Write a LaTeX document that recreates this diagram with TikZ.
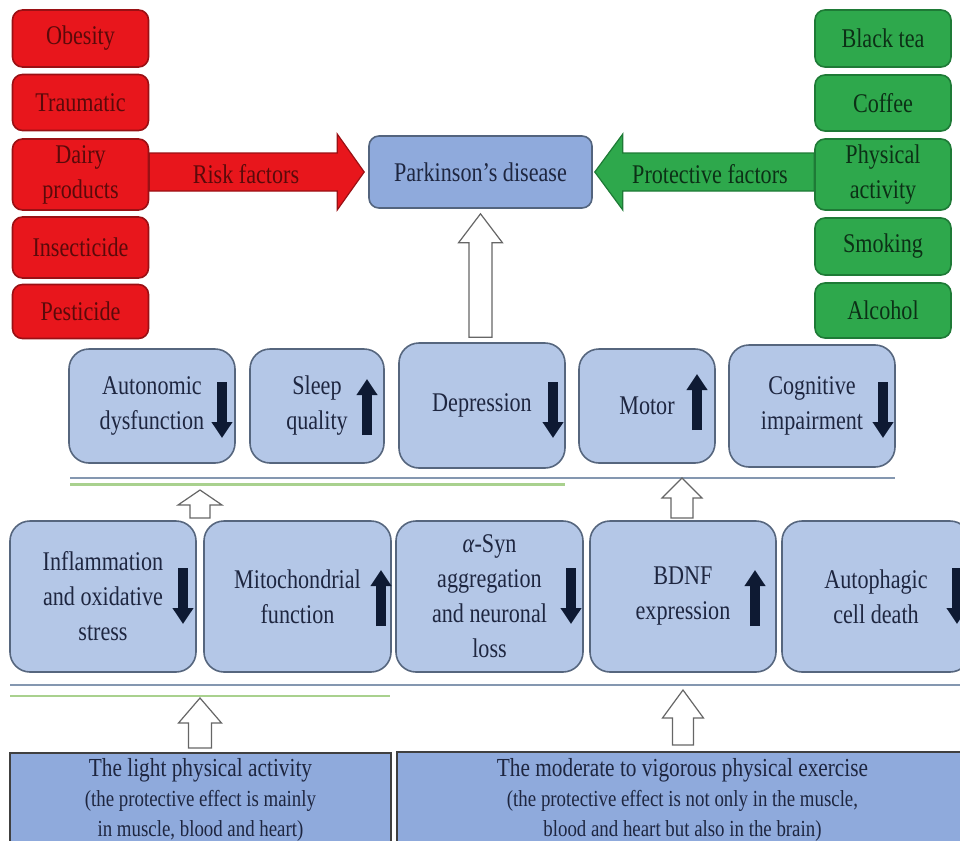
\documentclass[tikz,border=0pt]{standalone}
\usepackage{fontspec}
\setmainfont{Liberation Serif}[FakeStretch=0.82]
\usetikzlibrary{arrows.meta,calc}

\definecolor{riskfill}{HTML}{E8161C}
\definecolor{riskline}{HTML}{9A1014}
\definecolor{risktext}{HTML}{5A0A0A}
\definecolor{protfill}{HTML}{2EA84C}
\definecolor{protline}{HTML}{1E7A36}
\definecolor{prottext}{HTML}{0C3016}
\definecolor{pdfill}{HTML}{8FAADC}
\definecolor{pdline}{HTML}{53647E}
\definecolor{efffill}{HTML}{B4C7E7}
\definecolor{effline}{HTML}{56667E}
\definecolor{maintext}{HTML}{1E2640}
\definecolor{indicator}{HTML}{0E1A33}
\definecolor{sepblue}{HTML}{8497B0}
\definecolor{sepgreen}{HTML}{A9D18E}

\tikzset{
  base/.style={align=center, inner sep=0pt, text=maintext,
    font=\fontsize{13.5}{17.5}\selectfont},
  riskbox/.style={base, draw=riskline, fill=riskfill, text=risktext,
    line width=0.8pt, rounded corners=5pt, minimum width=68pt},
  protbox/.style={base, draw=protline, fill=protfill, text=prottext,
    line width=0.8pt, rounded corners=5pt, minimum width=68pt},
  pdbox/.style={base, draw=pdline, fill=pdfill, line width=0.8pt,
    rounded corners=5pt, font=\fontsize{13.5}{16}\selectfont},
  effbox/.style={base, draw=effline, fill=efffill, line width=0.8pt,
    rounded corners=10pt},
  actbox/.style={base, draw=black!75, fill=pdfill, line width=0.8pt,
    font=\fontsize{11.5}{15}\selectfont},
  hollow/.style={draw=black!60, fill=white, line width=0.6pt},
  indic/.style={draw=indicator, line width=5pt,
    -{Triangle[width=10pt,length=8pt]}},
}

% hollow up arrow: foot, tip, half shaft, half head, head length
\newcommand\hollowup[5]{%
  \draw[hollow] let \p1=(#1), \p2=(#2) in
    (\x2-#3,\y1) -- (\x2-#3,\y2-#5) -- (\x2-#4,\y2-#5) -- (\x2,\y2)
    -- (\x2+#4,\y2-#5) -- (\x2+#3,\y2-#5) -- (\x2+#3,\y1) -- cycle;}
% black up / down indicators
\newcommand\arrdown[2]{\draw[indic] (#1,#2-28) -- (#1,#2+28);}
\newcommand\arrup[2]{\draw[indic] (#1,#2+28) -- (#1,#2-28);}

\begin{document}
\begin{tikzpicture}[x=0.5pt,y=-0.5pt]
  \useasboundingbox (0,0) rectangle (960,841);
  \clip (0,0) rectangle (960,841);

  % risk factors
  \node[riskbox, minimum height=28.5pt] (obesity) at (80.5,38.5) {Obesity};
  \node[riskbox, minimum height=28pt] (trauma) at (80.5,102.5) {Traumatic};
  \node[riskbox, minimum height=35.5pt] (dairy) at (80.5,174.5) {Dairy\\products};
  \node[riskbox, minimum height=30.5pt] (insect) at (80.5,247.5) {Insecticide};
  \node[riskbox, minimum height=27pt] (pest) at (80.5,311.5) {Pesticide};

  % protective factors
  \node[protbox, minimum height=28.5pt] (tea) at (883,38.5) {Black tea};
  \node[protbox, minimum height=28pt] (coffee) at (883,103) {Coffee};
  \node[protbox, minimum height=35.5pt] (phys) at (883,174.5) {Physical\\activity};
  \node[protbox, minimum height=28.5pt] (smoke) at (883,246.5) {Smoking};
  \node[protbox, minimum height=27.5pt] (alcohol) at (883,310.5) {Alcohol};

  \node[pdbox, minimum width=111.5pt, minimum height=36pt] (pd) at (480.5,172)
    {Parkinson's disease};

  \draw[draw=riskline, fill=riskfill, line width=0.6pt]
    let \p1=(dairy.east), \p2=($(pd.west)+(-4,0)$) in
    (\x1,\y2+9.5pt) -- (\x2-13.5pt,\y2+9.5pt) -- (\x2-13.5pt,\y2+19pt)
    -- (\x2,\y2) -- (\x2-13.5pt,\y2-19pt) -- (\x2-13.5pt,\y2-9.5pt)
    -- (\x1,\y2-9.5pt) -- cycle;
  \node[base, text=risktext] (risk) at (246,174) {Risk factors};

  \draw[draw=protline, fill=protfill, line width=0.6pt]
    let \p1=(phys.west), \p2=($(pd.east)+(2,0)$) in
    (\x1,\y2+9.5pt) -- (\x2+14pt,\y2+9.5pt) -- (\x2+14pt,\y2+19pt)
    -- (\x2,\y2) -- (\x2+14pt,\y2-19pt) -- (\x2+14pt,\y2-9.5pt)
    -- (\x1,\y2-9.5pt) -- cycle;
  \node[base, text=prottext] (prot) at (710,174) {Protective factors};

  % clinical outcomes
  \node[effbox, minimum width=83pt, minimum height=57pt] (auto) at (152,406)
    {Autonomic\\dysfunction};
  \node[effbox, minimum width=67pt, minimum height=57pt] (sleep) at (317,406)
    {Sleep\\quality};
  \node[effbox, minimum width=83pt, minimum height=62.5pt] (dep) at (482,405.5)
    {Depression};
  \node[effbox, minimum width=68pt, minimum height=57pt] (motor) at (647,406)
    {Motor};
  \node[effbox, minimum width=83pt, minimum height=61pt] (cog) at (812,406)
    {Cognitive\\impairment};
  \arrdown{222}{410}
  \arrup{367}{407}
  \arrdown{553}{410}
  \arrup{697}{402}
  \arrdown{883}{410}

  \hollowup{$(dep.north)+(0,-5)$}{$(pd.south)+(0,5)$}{5.75pt}{11pt}{14.5pt}

  \draw[sepblue, line width=1.3pt] (70,478) -- (895,478);
  \draw[sepgreen, line width=1.3pt] (70,484.5) -- (565,484.5);

  % mechanisms
  \node[effbox, minimum width=93pt, minimum height=75.5pt] (infl) at (103,596.5)
    {Inflammation\\and oxidative\\stress};
  \node[effbox, minimum width=93.5pt, minimum height=75.5pt] (mito) at (297.5,596.5)
    {Mitochondrial\\function};
  \node[effbox, minimum width=93.5pt, minimum height=75.5pt] (syn) at (489.5,596.5)
    {\textit{α}-Syn\\aggregation\\and neuronal\\loss};
  \node[effbox, minimum width=93pt, minimum height=75.5pt] (bdnf) at (683,596.5)
    {BDNF\\expression};
  \node[effbox, minimum width=94pt, minimum height=75.5pt] (autoph) at (876,596.5)
    {Autophagic\\cell death};
  \arrdown{183}{596}
  \arrup{381}{598}
  \arrdown{571}{596}
  \arrup{755}{598}
  \arrdown{957}{596}

  \coordinate (mlfoot) at (200,518);
  \coordinate (mltip) at (200,490);
  \coordinate (mrfoot) at (682,518);
  \coordinate (mrtip) at (682,478);
  \hollowup{mlfoot}{mltip}{5pt}{11pt}{7.5pt}
  \hollowup{mrfoot}{mrtip}{5.5pt}{10pt}{10pt}

  \draw[sepblue, line width=1.3pt] (10,685) -- (960,685);
  \draw[sepgreen, line width=1.3pt] (10,696) -- (390,696);

  % exercise intensity
  \node[actbox, minimum width=190.5pt, minimum height=47pt] (light) at (200.5,800)
    {{\fontsize{13}{15}\selectfont The light physical activity}\\
     (the protective effect is mainly\\in muscle, blood and heart)};
  \node[actbox, minimum width=285.5pt, minimum height=48pt] (vig) at (682.5,800)
    {{\fontsize{13}{15}\selectfont The moderate to vigorous physical exercise}\\
     (the protective effect is not only in the muscle,\\
     blood and heart but also in the brain)};

  \coordinate (blfoot) at (200,748);
  \coordinate (bltip) at (200,698);
  \coordinate (brfoot) at (683,745);
  \coordinate (brtip) at (683,690);
  \hollowup{blfoot}{bltip}{5.75pt}{10.75pt}{12.5pt}
  \hollowup{brfoot}{brtip}{5.25pt}{10.25pt}{14pt}
\end{tikzpicture}
\end{document}
